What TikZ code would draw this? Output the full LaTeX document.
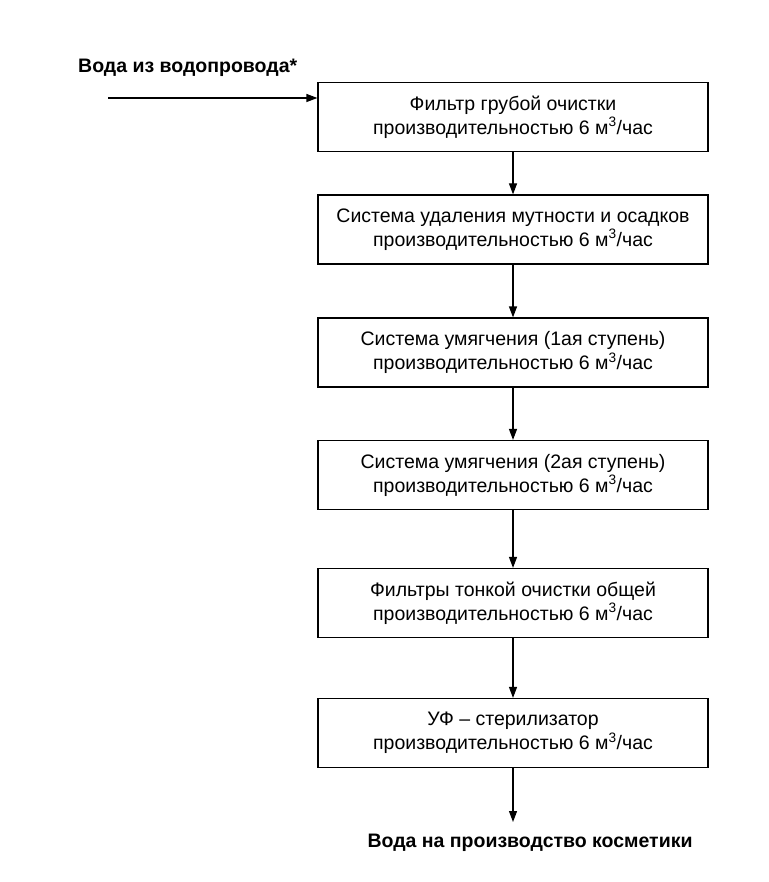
\documentclass[tikz,border=0pt]{standalone}
\usepackage{fontspec}
\setmainfont{Liberation Sans}
\usetikzlibrary{arrows.meta}
\begin{document}
\begin{tikzpicture}[x=1pt,y=-1pt,
box/.style={draw,line width=1.2pt,minimum width=390pt,minimum height=69pt,align=center,font=\fontsize{19.5}{24}\selectfont,inner sep=0pt},
arr/.style={-{Triangle[length=11pt,width=8pt]},line width=1.2pt}]
\useasboundingbox (0,0) rectangle (768,882);
\node[box] (b1) at (513,117) {Фильтр грубой очистки\\производительностью 6 м\textsuperscript{3}/час};
\node[box] (b2) at (513,229.5) {Система удаления мутности и осадков\\производительностью 6 м\textsuperscript{3}/час};
\node[box] (b3) at (513,352.5) {Система умягчения (1ая ступень)\\производительностью 6 м\textsuperscript{3}/час};
\node[box] (b4) at (513,475) {Система умягчения (2ая ступень)\\производительностью 6 м\textsuperscript{3}/час};
\node[box] (b5) at (513,603) {Фильтры тонкой очистки общей\\производительностью 6 м\textsuperscript{3}/час};
\node[box] (b6) at (513,733) {УФ – стерилизатор\\производительностью 6 м\textsuperscript{3}/час};
\node[font=\bfseries\fontsize{19.5}{24}\selectfont,anchor=west,inner sep=0pt] (in) at (78,68) {Вода из водопровода*};
\node[font=\bfseries\fontsize{19.5}{24}\selectfont] (out) at (530,843) {Вода на производство косметики};
\coordinate (s) at (108,98);
\coordinate (e) at (513,822);
\draw[arr] (s) -- (s -| b1.west);
\draw[arr] (b1) -- (b2);
\draw[arr] (b2) -- (b3);
\draw[arr] (b3) -- (b4);
\draw[arr] (b4) -- (b5);
\draw[arr] (b5) -- (b6);
\draw[arr] (b6) -- (e);
\end{tikzpicture}
\end{document}
